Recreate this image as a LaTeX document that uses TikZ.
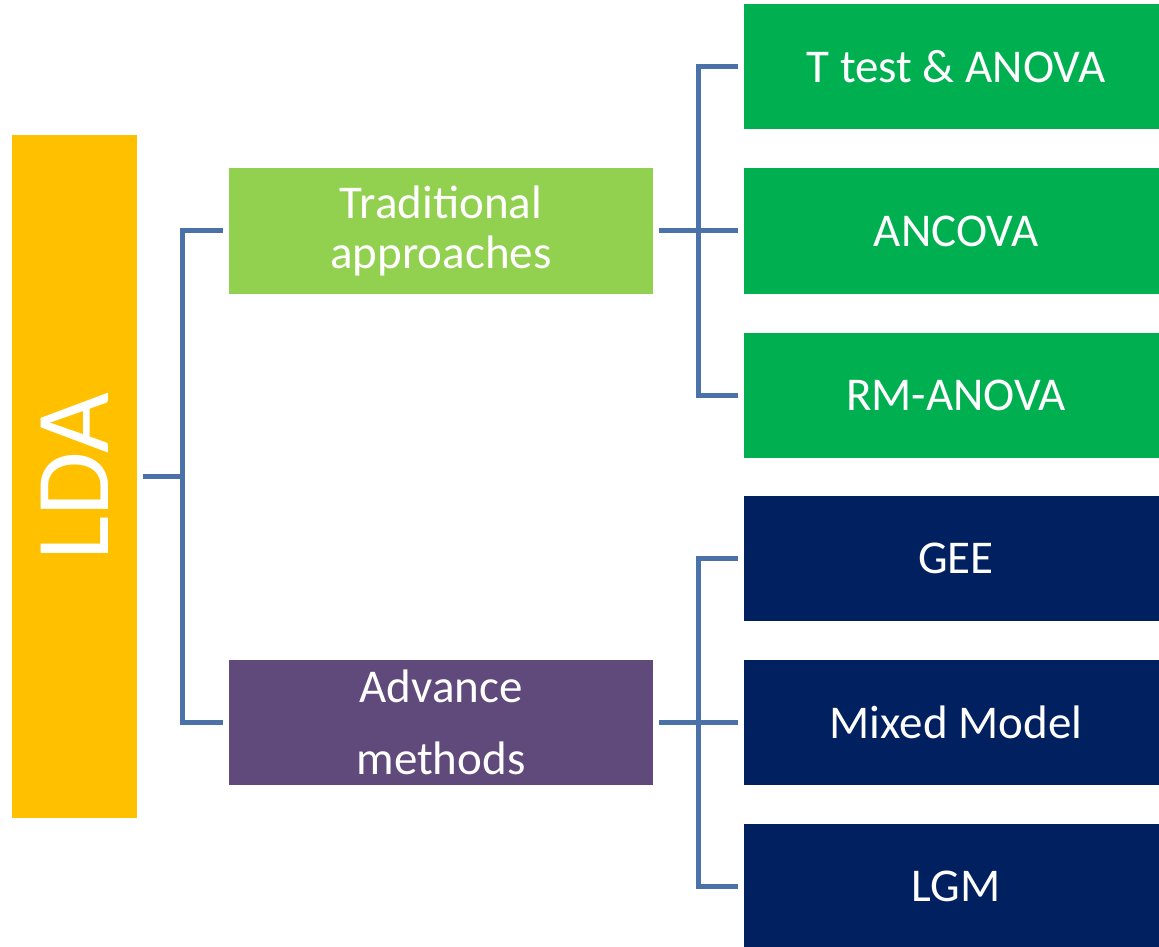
\documentclass[tikz,border=0pt]{standalone}
\usepackage{fontspec}
\setmainfont{Carlito}
\usetikzlibrary{trees}
\definecolor{ldaorange}{RGB}{255,192,0}
\definecolor{tradgreen}{RGB}{146,208,80}
\definecolor{testgreen}{RGB}{0,176,80}
\definecolor{advpurple}{RGB}{96,74,123}
\definecolor{modelnavy}{RGB}{0,32,96}
\definecolor{linkblue}{RGB}{74,114,168}

\begin{document}
\begin{tikzpicture}[x=0.5pt,y=-0.5pt]
\tikzstyle{level 1} = [level distance=183.25pt, sibling distance=245.5pt]
\tikzstyle{level 2} = [level distance=257.5pt, sibling distance=82pt]
\tikzstyle{box} = [rectangle, inner sep=0pt, text=white, align=center, font=\fontsize{23.5}{25}\selectfont]
\tikzstyle{approach} = [box, minimum width=212pt, minimum height=62.5pt]
\tikzstyle{method} = [box, minimum width=212pt, minimum height=62.5pt]

\useasboundingbox (0,0) rectangle (1159,946);

\node[box, fill=ldaorange, minimum width=62.5pt, minimum height=341.5pt, font=\fontsize{52.5}{55}\selectfont] (lda) at (74.5,476.5) {\rotatebox{90}{LDA}}
[grow'=right,
 edge from parent/.style={draw=linkblue, line width=2.5pt, shorten <=3pt, shorten >=3pt},
 edge from parent path={(\tikzparentnode.east) -- ++(22.75pt,0) |- (\tikzchildnode.west)}]
child{
node[approach, fill=tradgreen] (trad) {Traditional\\approaches}
        child{
                node[method, fill=testgreen] (ttest) {T test \& ANOVA}
                }
        child{
                node[method, fill=testgreen] (ancova) {ANCOVA}
                }
        child{
                node[method, fill=testgreen] (rmanova) {RM-ANOVA}
                }
        }
child{
node[approach, fill=advpurple] (adv) {Advance\\[11pt]methods}
        child{
                node[method, fill=modelnavy] (gee) {GEE}
                }
        child{
                node[method, fill=modelnavy] (mixed) {Mixed Model}
                }
        child{
                node[method, fill=modelnavy] (lgm) {LGM}
                }
        };

\end{tikzpicture}
\end{document}
